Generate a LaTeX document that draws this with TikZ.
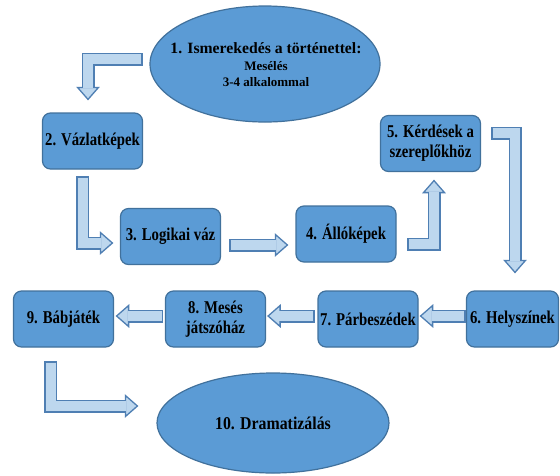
\documentclass[tikz,border=0pt]{standalone}
\usepackage{fontspec}
\setmainfont{Liberation Serif}
\newfontfamily\boxfont[FakeStretch=0.82]{Liberation Serif}
\newfontfamily\dramfont[FakeStretch=0.88]{Liberation Serif}
\usetikzlibrary{calc,shapes.geometric}
\definecolor{BoxFill}{HTML}{5B9BD5}
\definecolor{BoxLine}{HTML}{41719C}
\definecolor{AFill}{HTML}{BDD7EE}
\definecolor{ALine}{HTML}{4F7FB3}
\tikzset{
  stepbox/.style={draw=BoxLine, fill=BoxFill, line width=1.2pt, rounded corners=8pt,
    minimum width=100pt, minimum height=56pt, inner sep=1pt, align=center,
    font=\boxfont\fontsize{18}{20}\selectfont\bfseries, text=black},
  oval/.style={draw=BoxLine, fill=BoxFill, line width=1.2pt, ellipse, inner sep=0pt},
  arrowborder/.style={draw=ALine, line width=13pt, line join=miter, shorten <=-1.3pt, shorten >=12pt},
  arrowshaft/.style={draw=AFill, line width=10pt, line join=miter, shorten >=11.3pt},
  arrowhead/.style={fill=AFill, draw=ALine, line width=1.3pt, line join=miter},
}
\newcommand\blockarrow[3]{%
  \draw[arrowborder] #1;
  \filldraw[arrowhead, shift={(#2)}, rotate=#3] (0,0) -- (-12,10.5) -- (-12,-10.5) -- cycle;
  \draw[arrowshaft] #1;
}
\begin{document}
\begin{tikzpicture}[x=1pt,y=-1pt]
\useasboundingbox[fill=white] (0,0) rectangle (560,475);

% nodes
\node[oval, minimum width=230pt, minimum height=116pt] (n1) at (265,64) {};
\node[align=center, text=black, inner sep=0pt,
  font=\fontsize{13}{16.5}\selectfont\bfseries] (t1) at (266,65)
  {{\fontsize{15.7}{17}\selectfont 1. Ismerekedés a történettel:}\\
   Mesélés\\
   3-4 alkalommal};
\node[stepbox] (n2) at (92.5,141) {2. Vázlatképek};
\node[stepbox] (n3) at (170.5,236.5) {3. Logikai váz};
\node[stepbox] (n4) at (346,234) {4. Állóképek};
\node[stepbox] (n5) at (430.5,143.5) {5. Kérdések a\\szereplőkhöz};
\node[stepbox, minimum width=92pt] (n6) at (512.5,319) {6. Helyszínek};
\node[stepbox] (n7) at (368,319) {7. Párbeszédek};
\node[stepbox] (n8) at (215.5,319) {8. Mesés\\játszóház};
\node[stepbox] (n9) at (63.5,319) {9. Bábjáték};
\node[oval, minimum width=232pt, minimum height=100pt,
  font=\dramfont\fontsize{18}{22}\selectfont\bfseries] (n10) at (273,423) {10. Dramatizálás};

% arrow end points
\coordinate (a1) at ($(n1.west)+(-8,-5)$);
\coordinate (b1) at ($(n2.north)+(-4.5,-13)$);
\coordinate (a2) at ($(n2.south)+(-10,8)$);
\coordinate (b2) at ($(n3.west)+(-7.5,6.5)$);
\coordinate (a3) at ($(n3.east)+(9.5,8.5)$);
\coordinate (b3) at ($(n4.west)+(-8,11)$);
\coordinate (a4) at ($(n4.east)+(12,10)$);
\coordinate (b4) at ($(n5.south)+(3.5,8.5)$);
\coordinate (a5) at ($(n5.east)+(11.5,-10.5)$);
\coordinate (b5) at ($(n6.north)+(2.5,-18)$);
\coordinate (a6) at ($(n6.west)+(-1.5,-3)$);
\coordinate (b6) at ($(n7.east)+(2,-3)$);
\coordinate (a7) at ($(n7.west)+(-4,-3)$);
\coordinate (b7) at ($(n8.east)+(2,-3)$);
\coordinate (a8) at ($(n8.west)+(-3,-3)$);
\coordinate (b8) at ($(n9.east)+(2.5,-3)$);
\coordinate (a9) at ($(n9.south)+(-13,15)$);
\coordinate (b9) at ($(n10.west)+(-19,-17)$);

% block arrows
\blockarrow{(a1) -- (b1 |- a1) -- (b1)}{b1}{-90}
\blockarrow{(a2) -- (a2 |- b2) -- (b2)}{b2}{0}
\blockarrow{(a3) -- (b3)}{b3}{0}
\blockarrow{(a4) -- (b4 |- a4) -- (b4)}{b4}{90}
\blockarrow{(a5) -- (b5 |- a5) -- (b5)}{b5}{-90}
\blockarrow{(a6) -- (b6)}{b6}{180}
\blockarrow{(a7) -- (b7)}{b7}{180}
\blockarrow{(a8) -- (b8)}{b8}{180}
\blockarrow{(a9) -- (a9 |- b9) -- (b9)}{b9}{0}
\end{tikzpicture}
\end{document}
